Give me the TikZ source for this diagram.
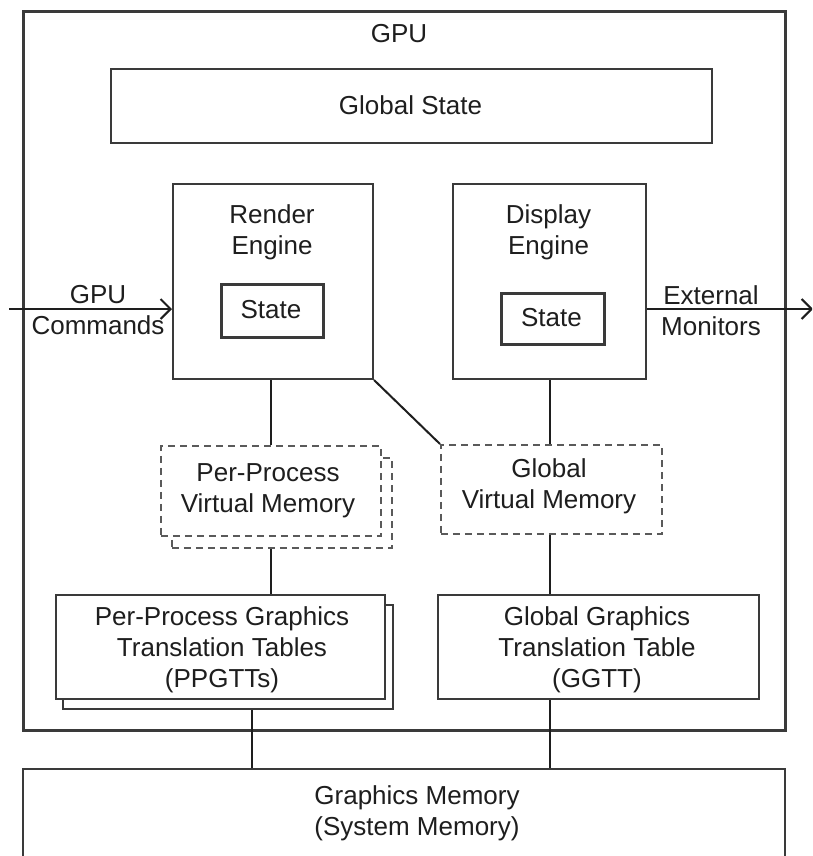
\documentclass[tikz,border=0pt]{standalone}
\usepackage{fontspec}
\setmainfont{Liberation Sans}
\usetikzlibrary{arrows.meta,calc}
\definecolor{edge}{HTML}{3A3A3A}
\definecolor{dashedge}{HTML}{5A5A5A}
\definecolor{ink}{HTML}{1E1E1E}
\begin{document}
\begin{tikzpicture}[x=1pt,y=-1pt,
  every node/.style={font=\fontsize{26}{31}\selectfont, text=ink},
  blk/.style={draw=edge, line width=2pt, fill=white, inner sep=0pt,
    anchor=north west},
  dblk/.style={draw=dashedge, line width=1.8pt, dash pattern=on 7pt off 5pt,
    fill=white, inner sep=0pt, anchor=north west},
  statebox/.style={draw=edge, line width=2.8pt, fill=white, inner sep=0pt,
    anchor=north west},
  txt/.style={align=center, inner sep=0pt},
  wire/.style={draw=ink, line width=2pt},
  arr/.style={wire, -{Straight Barb[length=10pt,width=20pt,line width=2pt]}}
]
\useasboundingbox (0,0) rectangle (812,856);
\clip (0,0) rectangle (812,856);

% GPU enclosure
\node[blk, line width=2.6pt, minimum width=762pt, minimum height=719pt] (gpu) at (22,10) {};
\node[txt] (gpulbl) at (399,34) {GPU};

% global state
\node[blk, minimum width=601pt, minimum height=74pt] (gstate) at (110,68) {};
\node[txt] (gstatelbl) at (410.5,105) {Global State};

% render engine
\node[blk, minimum width=200pt, minimum height=195pt] (render) at (172,183) {};
\node[txt] (renderlbl) at (272,232) {Render\\Engine};
\node[statebox, minimum width=102pt, minimum height=53pt] (rstate) at (220,283) {};
\node[txt] (rstatelbl) at (271,309.5) {State};

% display engine
\node[blk, minimum width=193pt, minimum height=195pt] (dispeng) at (452,183) {};
\node[txt] (displbl) at (548.5,232) {Display\\Engine};
\node[statebox, minimum width=103pt, minimum height=51pt] (dstate) at (500,292) {};
\node[txt] (dstatelbl) at (551.5,317.5) {State};

% external inputs / outputs
\coordinate (cmdsrc) at (9,309);
\coordinate (monout) at (813,309);
\draw[arr] (cmdsrc) -- (render.west |- cmdsrc);
\draw[arr] (dispeng.east |- monout) -- (monout);
\node[txt] (cmdlbl) at (98,310) {GPU\\Commands};
\node[txt] (monlbl) at (711,311) {External\\Monitors};

% per-process virtual memory (stacked)
\node[dblk, minimum width=220pt, minimum height=90pt] (ppvmback) at (171,457) {};
\node[dblk, minimum width=220pt, minimum height=90pt] (ppvm) at (160,445) {};
\node[txt] (ppvmlbl) at (268,491) {Per-Process\\Virtual Memory};

% global virtual memory
\node[dblk, minimum width=221pt, minimum height=89pt] (gvm) at (440,444) {};
\node[txt] (gvmlbl) at (549,486) {Global\\Virtual Memory};

% per-process GTTs (stacked)
\node[blk, minimum width=330pt, minimum height=104pt] (ppgttback) at (62,604) {};
\node[blk, minimum width=329pt, minimum height=104pt] (ppgtt) at (55,594) {};
\node[txt] (ppgttlbl) at (222,650) {Per-Process Graphics\\Translation Tables\\(PPGTTs)};

% global GTT
\node[blk, minimum width=321pt, minimum height=104pt] (ggtt) at (437,594) {};
\node[txt] (ggttlbl) at (597,650) {Global Graphics\\Translation Table\\(GGTT)};

% system memory
\node[blk, minimum width=762pt, minimum height=110pt] (gmem) at (22,768) {};
\node[txt] (gmemlbl) at (417,813) {Graphics Memory\\(System Memory)};

% connectors
\draw[wire] (render.south -| ppvm.north) -- (ppvm.north);
\draw[wire] (render.south east) -- (gvm.north west);
\draw[wire] (dispeng.south) -- (dispeng.south |- gvm.north);
\draw[wire] (ppvm.south |- ppvmback.south) -- (ppvm.south |- ppgtt.north);
\draw[wire] (dispeng.south |- gvm.south) -- (dispeng.south |- ggtt.north);
\coordinate (ppgttout) at ($(ppgttback.south west)!0.573!(ppgttback.south east)$);
\draw[wire] (ppgttout) -- (ppgttout |- gmem.north);
\draw[wire] (dispeng.south |- ggtt.south) -- (dispeng.south |- gmem.north);
\end{tikzpicture}
\end{document}
